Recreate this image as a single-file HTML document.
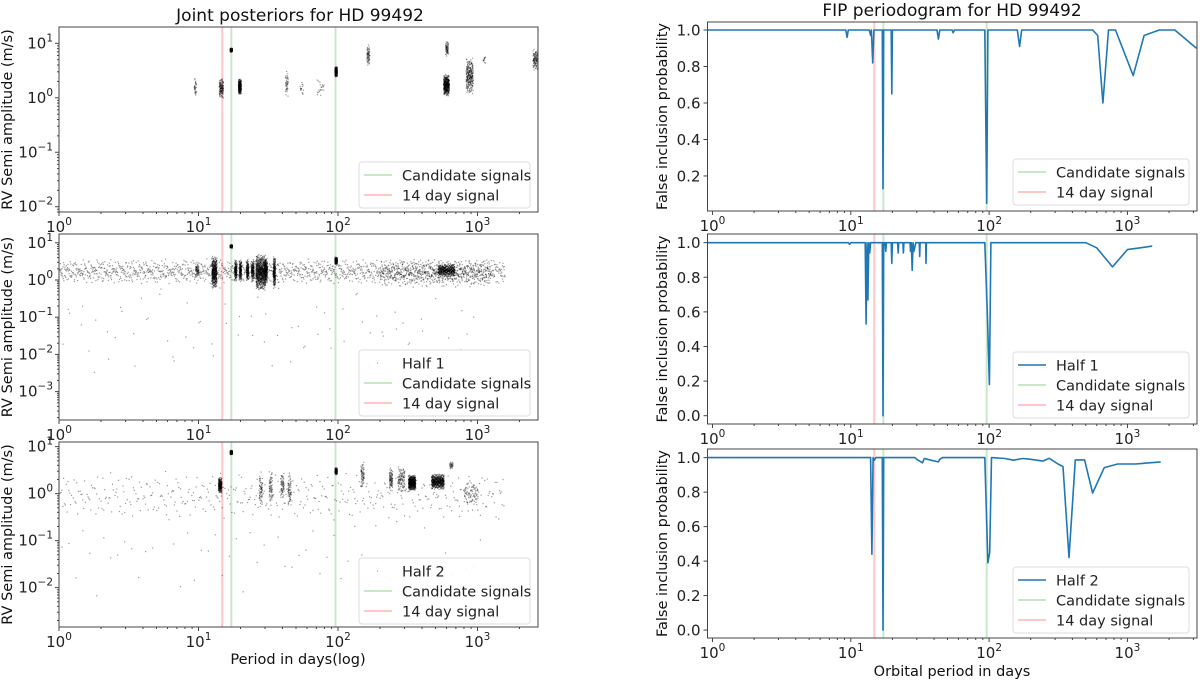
<!DOCTYPE html>
<html><head><meta charset="utf-8"><style>
html,body{margin:0;padding:0;background:#fff;}
svg{display:block;font-family:"DejaVu Sans","Liberation Sans",sans-serif;}
</style></head><body>
<svg id="fig" width="1200" height="681" viewBox="0 0 1200 681" xmlns="http://www.w3.org/2000/svg">
<text x="300" y="21" font-size="17" text-anchor="middle" fill="#111">Joint posteriors for HD 99492</text>
<text x="952" y="16" font-size="17" text-anchor="middle" fill="#111">FIP periodogram for HD 99492</text>
<text x="298" y="664" font-size="14.5" text-anchor="middle" fill="#111">Period in days(log)</text>
<text x="952" y="676" font-size="14.5" text-anchor="middle" fill="#111">Orbital period in days</text>
</svg>
<script>
// ---- scatter cluster data (Joint) ----
const jointPeriod = [9.5, 14.6, 17.2, 19.8, 43, 55, 75, 97, 165, 600, 605, 880, 1120, 2650];
const jointAmp    = [1.6, 1.5, 7.5, 1.6, 1.8, 1.5, 1.5, 3.0, 6.0, 1.7, 8.0, 2.5, 5.0, 5.0];
const jointAmpSpread = [0.2, 0.2, 0.04, 0.15, 0.25, 0.15, 0.2, 0.1, 0.2, 0.2, 0.15, 0.35, 0.1, 0.2];
const jointPerSpread = [0.008, 0.015, 0.008, 0.01, 0.01, 0.012, 0.025, 0.008, 0.01, 0.02, 0.01, 0.025, 0.008, 0.025];
const jointCount  = [30, 120, 150, 250, 40, 15, 20, 250, 60, 400, 60, 250, 12, 150];
// ---- Half 1 ----
const half1Period = [40, 30, 9.8, 13.0, 17.2, 18.5, 20, 22.5, 24.5, 28, 30.5, 35, 97, 600, 500];
const half1Amp    = [1.7, 0.05, 1.8, 1.6, 8.0, 1.8, 1.8, 1.8, 1.8, 1.6, 1.8, 1.6, 3.3, 1.8, 1.5];
const half1AmpSpread = [0.35, 1.4, 0.2, 0.45, 0.05, 0.3, 0.3, 0.3, 0.3, 0.5, 0.35, 0.45, 0.1, 0.18, 0.4];
const half1PerSpread = [1.6, 1.5, 0.012, 0.018, 0.008, 0.008, 0.008, 0.008, 0.01, 0.035, 0.01, 0.008, 0.008, 0.06, 0.4];
const half1Count  = [1500, 80, 60, 400, 150, 150, 150, 150, 150, 700, 200, 200, 250, 400, 500];
// ---- Half 2 ----
const half2Period = [40, 30, 14.3, 17.2, 28, 33, 40, 45, 97, 150, 240, 285, 340, 520, 650, 900];
const half2Amp    = [0.9, 0.05, 1.5, 7.5, 1.2, 1.3, 1.5, 1.2, 3.0, 2.5, 2.0, 2.0, 1.7, 1.8, 4.0, 1.0];
const half2AmpSpread = [0.55, 1.0, 0.18, 0.05, 0.4, 0.4, 0.3, 0.4, 0.08, 0.3, 0.25, 0.3, 0.17, 0.17, 0.08, 0.3];
const half2PerSpread = [1.6, 1.6, 0.012, 0.008, 0.012, 0.012, 0.012, 0.012, 0.008, 0.012, 0.012, 0.025, 0.025, 0.045, 0.012, 0.05];
const half2Count  = [450, 60, 200, 150, 60, 60, 60, 60, 150, 60, 80, 100, 500, 500, 30, 80];
// ---- FIP curves ----
const fipPeriodJoint = [0.92, 9.2, 9.4, 9.6, 13.6, 13.9, 14.1, 14.4, 14.7, 16.9, 17.1, 17.3, 19.6, 19.8, 20.0, 42, 43, 44, 54, 55, 56, 93, 96, 98, 160, 166, 172, 560, 610, 665, 730, 820, 1100, 1320, 1700, 2200, 3160];
const fipValueJoint  = [1, 1, 0.96, 1, 1, 0.97, 1, 0.82, 1, 1, 0.13, 1, 1, 0.65, 1, 1, 0.95, 1, 1, 0.985, 1, 1, 0.05, 1, 1, 0.91, 1, 1, 0.97, 0.60, 1.0, 1.0, 0.75, 0.97, 1.0, 1.0, 0.90];
const fipPeriodHalf1 = [0.92, 9.6, 9.8, 10, 12.7, 12.9, 13.1, 13.3, 13.5, 13.7, 13.9, 16.9, 17.1, 17.3, 17.7, 17.9, 18.1, 19.6, 19.8, 20, 21.8, 22, 22.2, 23.8, 24, 24.2, 26.8, 27, 27.4, 27.8, 28.2, 28.6, 29.5, 31.3, 31.5, 31.7, 34.8, 35, 35.2, 93, 97, 100.5, 103, 500, 600, 780, 1000, 1510];
const fipValueHalf1  = [1, 1, 0.99, 1, 1, 0.53, 1, 0.67, 1, 0.94, 1, 1, 0.0, 1, 1, 0.95, 1, 1, 0.88, 1, 1, 0.94, 1, 1, 0.94, 1, 1, 0.95, 1, 0.84, 1, 0.95, 1, 1, 0.92, 1, 1, 0.88, 1, 1, 0.6, 0.18, 1, 1, 0.97, 0.86, 0.96, 0.98];
const fipPeriodHalf2 = [0.92, 13.9, 14.2, 14.5, 14.8, 15.2, 16.9, 17.1, 17.3, 29, 30, 33, 34, 38, 43, 44, 46, 93, 98, 101, 104, 130, 150, 175, 200, 245, 272, 315, 342, 378, 420, 490, 560, 680, 850, 1140, 1740];
const fipValueHalf2  = [1, 1, 0.44, 1, 0.985, 1, 1, 0.0, 1, 1, 0.99, 0.97, 0.995, 0.985, 0.975, 0.99, 1, 1, 0.39, 0.45, 1, 0.995, 0.985, 0.995, 0.99, 0.98, 0.996, 0.963, 0.948, 0.42, 0.987, 0.987, 0.795, 0.942, 0.963, 0.963, 0.975];
// ---- reference lines ----
const candidatePeriods = [17.2, 96];
const signal14Period = [14.8];
const fipTicksTop = [0.2, 0.4, 0.6, 0.8, 1.0];
const fipTicksFull = [0.0, 0.2, 0.4, 0.6, 0.8, 1.0];

const NS = "http://www.w3.org/2000/svg";
const svg = document.getElementById('fig');
function mk(tag, attrs, parent) {
  const e = document.createElementNS(NS, tag);
  for (const k in attrs) e.setAttribute(k, attrs[k]);
  (parent || svg).appendChild(e);
  return e;
}
function halton(i, b) { let f = 1, r = 0; while (i > 0) { f /= b; r += f * (i % b); i = Math.floor(i / b); } return r; }
function powLabel(parent, x, y, exp, anchor, name) {
  const t = mk('text', {x: x, y: y, 'font-size': 15, 'text-anchor': anchor, fill: '#222'}, parent);
  
  
  t.appendChild(document.createTextNode('10'));
  const s = mk('tspan', {dy: -7, 'font-size': 10.5}, t);
  s.textContent = String(exp).replace('-', '\u2212');
  return t;
}

function makePanel(cfg) {
  const g = mk('g', {});
  
  
  const {x0, x1, y0, y1, lxmin, lxmax} = cfg;
  const sx = p => x0 + (Math.log10(p) - lxmin) / (lxmax - lxmin) * (x1 - x0);
  let sy;
  if (cfg.logy) sy = a => y1 - (Math.log10(a) - cfg.lymin) / (cfg.lymax - cfg.lymin) * (y1 - y0);
  else sy = v => y1 - (v - cfg.ymin) / (cfg.ymax - cfg.ymin) * (y1 - y0);
  const cid = 'clip-' + cfg.name;
  const cp = mk('clipPath', {id: cid}, g);
  mk('rect', {x: x0, y: y0, width: x1 - x0, height: y1 - y0}, cp);
  const plot = mk('g', {'clip-path': 'url(#' + cid + ')'}, g);
  
  
  candidatePeriods.forEach(p => {
    const l = mk('line', {x1: sx(p), x2: sx(p), y1: y0, y2: y1, stroke: '#2ca02c', 'stroke-opacity': 0.25, 'stroke-width': 2}, plot);
    
    
  });
  signal14Period.forEach(p => {
    const l = mk('line', {x1: sx(p), x2: sx(p), y1: y0, y2: y1, stroke: '#ff0000', 'stroke-opacity': 0.22, 'stroke-width': 2}, plot);
    
    
  });
  if (cfg.scatter) {
    const sc = cfg.scatter;
    const sg = mk('g', {fill: '#000'}, plot);
    
    
    let idx = 1;
    for (let c = 0; c < sc.P.length; c++) {
      const lp = Math.log10(sc.P[c]), la = Math.log10(sc.A[c]);
      for (let k = 0; k < sc.N[c]; k++, idx++) {
        const u = halton(idx, 2), v = halton(idx, 3), w = halton(idx, 7);
        const p = Math.pow(10, lp + (u - 0.5) * 2 * sc.PS[c]);
        const a = Math.pow(10, la + (v + w - 1) * sc.AS[c]);
        mk('rect', {x: (sx(p) - 0.6).toFixed(1), y: (sy(a) - 0.6).toFixed(1), width: 1.2, height: 1.2, 'fill-opacity': 0.4}, sg);
      }
    }
  }
  if (cfg.line) {
    const pts = cfg.line.P.map((p, i) => sx(p).toFixed(1) + ',' + sy(cfg.line.V[i]).toFixed(1)).join(' ');
    const pl = mk('polyline', {points: pts, fill: 'none', stroke: '#1f77b4', 'stroke-width': 1.6, 'stroke-linejoin': 'round'}, plot);
    
    
  }
  const fr = mk('rect', {x: x0, y: y0, width: x1 - x0, height: y1 - y0, fill: 'none', stroke: '#444', 'stroke-width': 1}, g);
  
  
  const xg = mk('g', {stroke: '#444', 'stroke-width': 1}, g);
  
  
  for (let d = Math.floor(lxmin); d <= Math.ceil(lxmax); d++) {
    for (let m = 1; m <= 9; m++) {
      const lp = d + Math.log10(m);
      if (lp < lxmin - 1e-6 || lp > lxmax + 1e-6) continue;
      const x = sx(Math.pow(10, lp));
      mk('line', {x1: x, x2: x, y1: y1, y2: y1 + (m === 1 ? 4 : 2)}, xg);
      if (m === 1) powLabel(g, x, y1 + 20, d, 'middle', 'x-tick-label');
    }
  }
  const yg = mk('g', {stroke: '#444', 'stroke-width': 1}, g);
  
  
  if (cfg.logy) {
    for (let d = Math.floor(cfg.lymin); d <= Math.ceil(cfg.lymax); d++) {
      for (let m = 1; m <= 9; m++) {
        const la = d + Math.log10(m);
        if (la < cfg.lymin || la > cfg.lymax) continue;
        const y = sy(Math.pow(10, la));
        mk('line', {x1: x0, x2: x0 - (m === 1 ? 4 : 2), y1: y, y2: y}, yg);
        if (m === 1) powLabel(g, x0 - 6, y + 5, d, 'end', 'y-tick-label');
      }
    }
  } else {
    cfg.ticks.forEach(t => {
      const y = sy(t);
      mk('line', {x1: x0, x2: x0 - 4, y1: y, y2: y}, yg);
      const tl = mk('text', {x: x0 - 7, y: y + 5.5, 'font-size': 15, 'text-anchor': 'end', fill: '#222'}, g);
      
      
      tl.textContent = t.toFixed(1);
    });
  }
  const yl = mk('text', {x: cfg.ylx, y: (y0 + y1) / 2, 'font-size': 14.5, 'text-anchor': 'middle', fill: '#111', transform: 'rotate(-90 ' + cfg.ylx + ' ' + (y0 + y1) / 2 + ')'}, g);
  
  
  yl.textContent = cfg.ylabel;
  const L = cfg.legend;
  const lg = mk('g', {}, g);
  
  
  mk('rect', {x: L.x, y: L.y, width: L.w, height: L.rows.length * 20 + 6, rx: 3, fill: '#fff', 'fill-opacity': 0.85, stroke: '#ddd'}, lg);
  L.rows.forEach((r, i) => {
    const ry = L.y + 13 + i * 20;
    const e = mk('g', {}, lg);
    
    
    if (r.c === 'dot') mk('rect', {x: L.x + 18, y: ry - 0.5, width: 1, height: 1, fill: '#000', 'fill-opacity': 0.4}, e);
    else mk('line', {x1: L.x + 5, x2: L.x + 33, y1: ry, y2: ry, stroke: r.c, 'stroke-opacity': r.o, 'stroke-width': r.sw || 2}, e);
    const t = mk('text', {x: L.x + 43, y: ry + 5.5, 'font-size': 14.5, fill: '#222'}, e);
    t.textContent = r.t;
  });
}

const cand = {c: '#2ca02c', o: 0.25, t: 'Candidate signals'};
const s14 = {c: '#ff0000', o: 0.22, t: '14 day signal'};
const leftX = {x0: 59, x1: 538, lxmin: 0, lxmax: 3.434, ylx: 12, ylabel: 'RV Semi amplitude (m/s)'};
makePanel(Object.assign({}, leftX, {name: 'joint-posterior-panel', y0: 27, y1: 212, logy: true, lymin: -2.097, lymax: 1.30,
  scatter: {P: jointPeriod, A: jointAmp, AS: jointAmpSpread, PS: jointPerSpread, N: jointCount},
  legend: {x: 359, y: 162, w: 171, rows: [cand, s14]}}));
makePanel(Object.assign({}, leftX, {name: 'half1-posterior-panel', y0: 234, y1: 420, logy: true, lymin: -3.763, lymax: 1.237,
  scatter: {P: half1Period, A: half1Amp, AS: half1AmpSpread, PS: half1PerSpread, N: half1Count},
  legend: {x: 359, y: 350, w: 171, rows: [{c: 'dot', t: 'Half 1'}, cand, s14]}}));
makePanel(Object.assign({}, leftX, {name: 'half2-posterior-panel', y0: 442, y1: 627, logy: true, lymin: -2.837, lymax: 1.098,
  scatter: {P: half2Period, A: half2Amp, AS: half2AmpSpread, PS: half2PerSpread, N: half2Count},
  legend: {x: 359, y: 558, w: 171, rows: [{c: 'dot', t: 'Half 2'}, cand, s14]}}));
const rightX = {x0: 707.5, x1: 1197, lxmin: -0.036, lxmax: 3.503, ylx: 667, ylabel: 'False inclusion probability'};
const blue = n => ({c: '#1f77b4', o: 1, sw: 1.6, t: n});
makePanel(Object.assign({}, rightX, {name: 'fip-joint-panel', y0: 22, y1: 211, logy: false, ymin: 0.008, ymax: 1.044, ticks: fipTicksTop,
  line: {P: fipPeriodJoint, V: fipValueJoint},
  legend: {x: 1013, y: 159, w: 176, rows: [cand, s14]}}));
makePanel(Object.assign({}, rightX, {name: 'fip-half1-panel', y0: 234, y1: 424, logy: false, ymin: -0.048, ymax: 1.05, ticks: fipTicksFull,
  line: {P: fipPeriodHalf1, V: fipValueHalf1},
  legend: {x: 1013, y: 352, w: 176, rows: [blue('Half 1'), cand, s14]}}));
makePanel(Object.assign({}, rightX, {name: 'fip-half2-panel', y0: 449, y1: 638, logy: false, ymin: -0.046, ymax: 1.05, ticks: fipTicksFull,
  line: {P: fipPeriodHalf2, V: fipValueHalf2},
  legend: {x: 1013, y: 567, w: 176, rows: [blue('Half 2'), cand, s14]}}));
</script>
</body></html>
